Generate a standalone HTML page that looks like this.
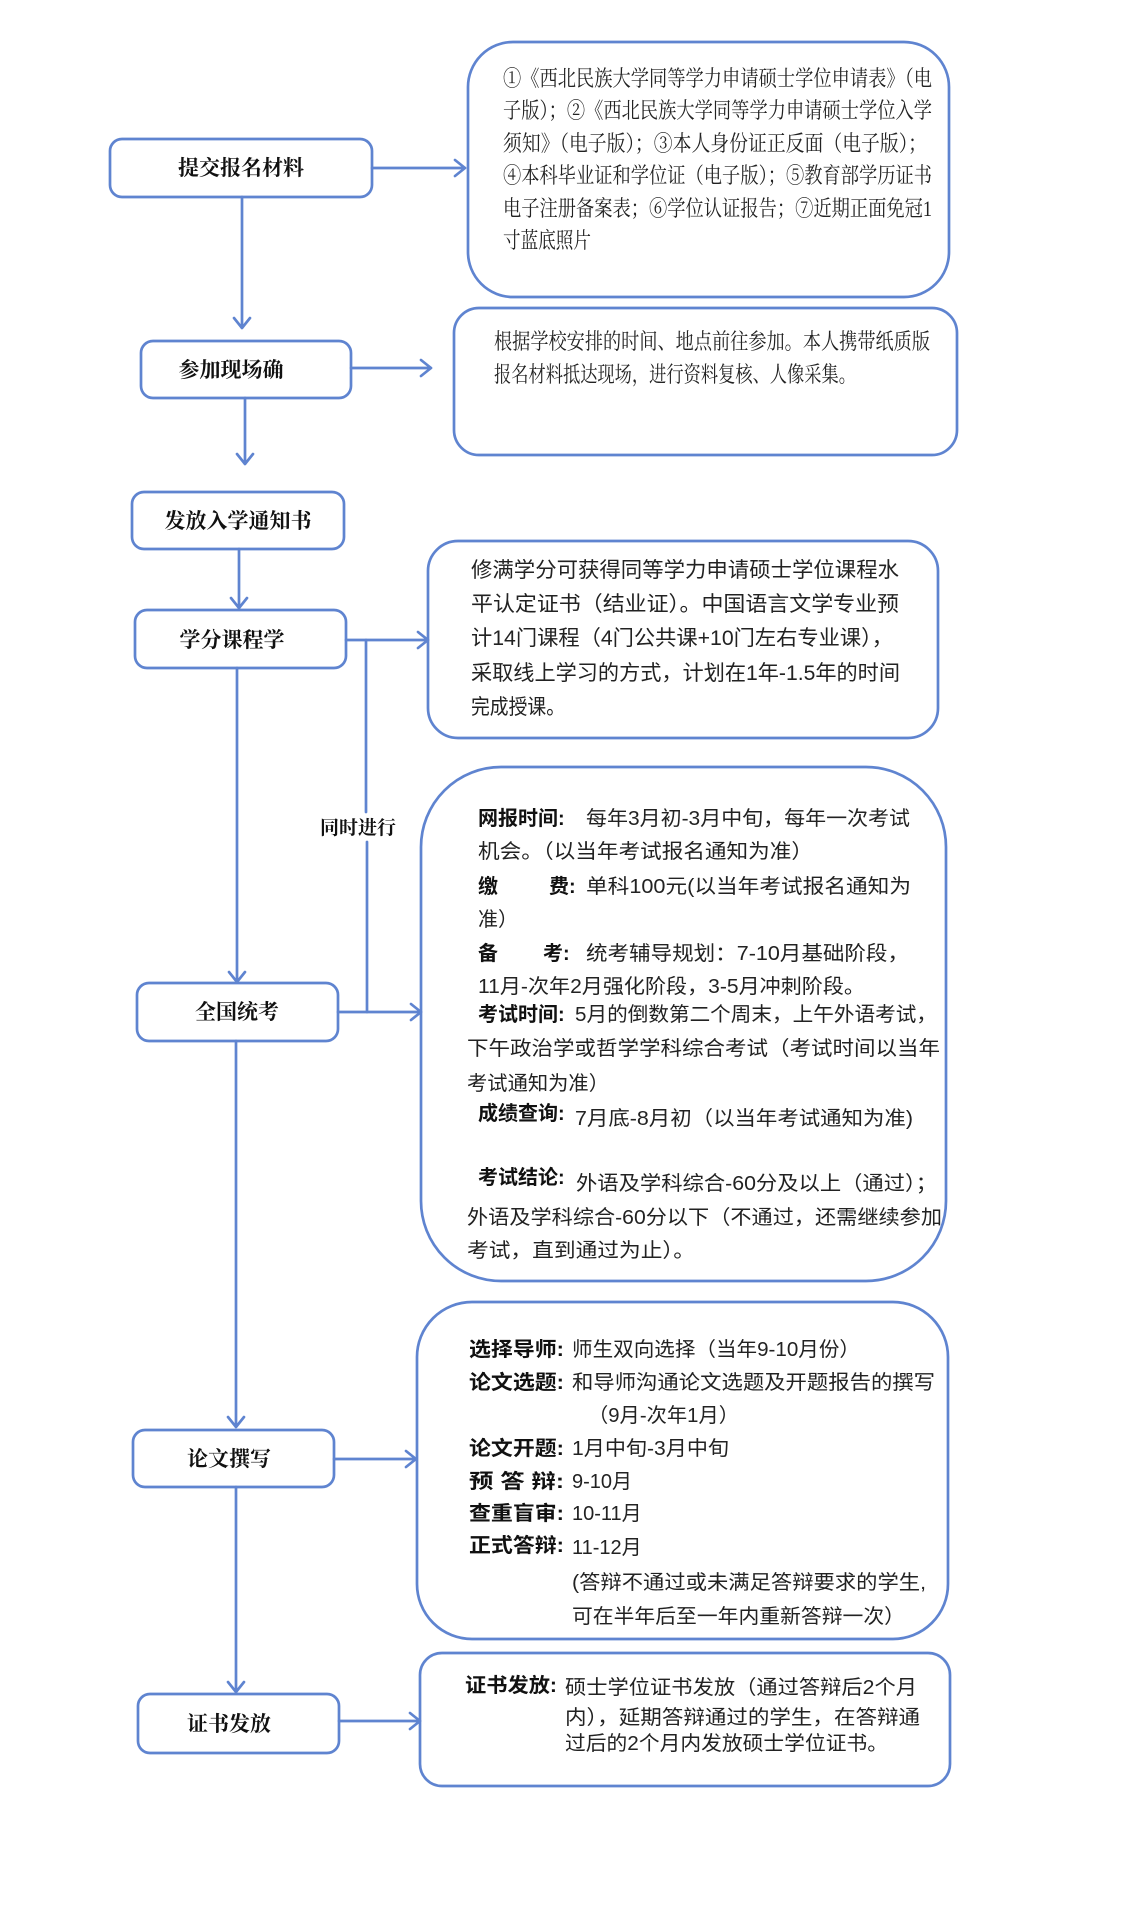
<!DOCTYPE html>
<html><head><meta charset="utf-8"><style>
html,body{margin:0;padding:0;background:#fff;}
svg{display:block;}
.l{font-family:"Liberation Serif","Noto Serif CJK SC",serif;font-size:21px;font-weight:bold;fill:#111;}
.t{font-family:"Liberation Sans","Noto Sans CJK SC",sans-serif;font-size:20px;fill:#222;}
.s{font-family:"Liberation Serif","Noto Serif CJK SC",serif;font-size:22px;fill:#222;}
.b{font-family:"Liberation Sans","Noto Sans CJK SC",sans-serif;font-size:20px;font-weight:bold;fill:#111;}
</style></head><body>
<svg width="1134" height="1919" viewBox="0 0 1134 1919" xmlns="http://www.w3.org/2000/svg">
<g fill="none" stroke="#5f84d0" stroke-width="2.7" stroke-linecap="round" stroke-linejoin="round">
<rect x="110" y="139" width="262" height="58" rx="12"/>
<rect x="141" y="341" width="210" height="57" rx="12"/>
<rect x="132" y="492" width="212" height="57" rx="12"/>
<rect x="135" y="610" width="211" height="58" rx="12"/>
<rect x="137" y="983" width="201" height="58" rx="12"/>
<rect x="133" y="1430" width="201" height="57" rx="12"/>
<rect x="138" y="1694" width="201" height="59" rx="12"/>
<rect x="468" y="42" width="481" height="255" rx="45"/>
<rect x="454" y="308" width="503" height="147" rx="25"/>
<rect x="428" y="541" width="510" height="197" rx="30"/>
<rect x="421" y="767" width="525" height="514" rx="80"/>
<rect x="417" y="1302" width="531" height="337" rx="55"/>
<rect x="420" y="1653" width="530" height="133" rx="22"/>
<path d="M242 197V328M234 318l8 10 8-10"/>
<path d="M245 398V464M237 454l8 10 8-10"/>
<path d="M239 549V608M231 598l8 10 8-10"/>
<path d="M237 668V982M229 972l8 10 8-10"/>
<path d="M236 1041V1427M228 1417l8 10 8-10"/>
<path d="M236 1487V1692M228 1682l8 10 8-10"/>
<path d="M372 168H465M455 160l10 8-10 8"/>
<path d="M351 368H431M421 360l10 8-10 8"/>
<path d="M346 640H428M418 632l10 8-10 8"/>
<path d="M338 1012H421M411 1004l10 8-10 8"/>
<path d="M334 1459H416M406 1451l10 8-10 8"/>
<path d="M339 1721H420M410 1713l10 8-10 8"/>
<path d="M366 640V812M367 842V1012"/>
</g>
<text class="l" x="241" y="175" text-anchor="middle">提交报名材料</text>
<text class="l" x="231" y="377" text-anchor="middle">参加现场确</text>
<text class="l" x="238" y="528" text-anchor="middle">发放入学通知书</text>
<text class="l" x="232" y="647" text-anchor="middle">学分课程学</text>
<text class="l" x="237" y="1019" text-anchor="middle">全国统考</text>
<text class="l" x="229" y="1466" text-anchor="middle">论文撰写</text>
<text class="l" x="229" y="1731" text-anchor="middle">证书发放</text>
<text class="l" x="358" y="834" text-anchor="middle" style="font-size:19px">同时进行</text>
<g class="s">
<text x="503" y="86" textLength="429" lengthAdjust="spacingAndGlyphs">①《西北民族大学同等学力申请硕士学位申请表》（电</text>
<text x="503" y="118" textLength="429" lengthAdjust="spacingAndGlyphs">子版）；②《西北民族大学同等学力申请硕士学位入学</text>
<text x="503" y="151" textLength="424" lengthAdjust="spacingAndGlyphs">须知》（电子版）；③本人身份证正反面（电子版）；</text>
<text x="503" y="183" textLength="429" lengthAdjust="spacingAndGlyphs">④本科毕业证和学位证（电子版）；⑤教育部学历证书</text>
<text x="503" y="216" textLength="429" lengthAdjust="spacingAndGlyphs">电子注册备案表；⑥学位认证报告；⑦近期正面免冠1</text>
<text x="503" y="248" textLength="88" lengthAdjust="spacingAndGlyphs">寸蓝底照片</text>
</g>
<g class="s">
<text x="494" y="349" textLength="436" lengthAdjust="spacingAndGlyphs">根据学校安排的时间、地点前往参加。本人携带纸质版</text>
<text x="494" y="382" textLength="362" lengthAdjust="spacingAndGlyphs">报名材料抵达现场，进行资料复核、人像采集。</text>
</g>
<g class="t" style="font-size:21px">
<text x="471" y="577" textLength="428" lengthAdjust="spacingAndGlyphs">修满学分可获得同等学力申请硕士学位课程水</text>
<text x="471" y="611" textLength="428" lengthAdjust="spacingAndGlyphs">平认定证书（结业证）。中国语言文学专业预</text>
<text x="471" y="645" textLength="422" lengthAdjust="spacingAndGlyphs">计14门课程（4门公共课+10门左右专业课），</text>
<text x="471" y="680" textLength="429" lengthAdjust="spacingAndGlyphs">采取线上学习的方式，计划在1年-1.5年的时间</text>
<text x="471" y="714" textLength="94" lengthAdjust="spacingAndGlyphs">完成授课。</text>
</g>
<g class="b">
<text x="478" y="825">网报时间:</text>
<text x="478" y="893">缴</text><text x="549" y="893">费:</text>
<text x="478" y="960">备</text><text x="543" y="960">考:</text>
<text x="478" y="1021">考试时间:</text>
<text x="478" y="1120">成绩查询:</text>
<text x="478" y="1184">考试结论:</text>
</g>
<g class="t">
<text x="586" y="825" textLength="324" lengthAdjust="spacingAndGlyphs">每年3月初-3月中旬，每年一次考试</text>
<text x="478" y="858" textLength="335" lengthAdjust="spacingAndGlyphs">机会。（以当年考试报名通知为准）</text>
<text x="586" y="893" textLength="325" lengthAdjust="spacingAndGlyphs">单科100元(以当年考试报名通知为</text>
<text x="478" y="926">准）</text>
<text x="586" y="960" textLength="323" lengthAdjust="spacingAndGlyphs">统考辅导规划：7-10月基础阶段，</text>
<text x="478" y="993" textLength="387" lengthAdjust="spacingAndGlyphs">11月-次年2月强化阶段，3-5月冲刺阶段。</text>
<text x="575" y="1021" textLength="362" lengthAdjust="spacingAndGlyphs">5月的倒数第二个周末，上午外语考试，</text>
<text x="467" y="1055" textLength="473" lengthAdjust="spacingAndGlyphs">下午政治学或哲学学科综合考试（考试时间以当年</text>
<text x="467" y="1090" textLength="142" lengthAdjust="spacingAndGlyphs">考试通知为准）</text>
<text x="575" y="1125" textLength="338" lengthAdjust="spacingAndGlyphs">7月底-8月初（以当年考试通知为准)</text>
<text x="576" y="1190" textLength="361" lengthAdjust="spacingAndGlyphs">外语及学科综合-60分及以上（通过）；</text>
<text x="467" y="1224" textLength="475" lengthAdjust="spacingAndGlyphs">外语及学科综合-60分以下（不通过，还需继续参加</text>
<text x="467" y="1257" textLength="228" lengthAdjust="spacingAndGlyphs">考试，直到通过为止）。</text>
</g>
<g class="b">
<text x="469" y="1356" textLength="95" lengthAdjust="spacingAndGlyphs">选择导师:</text>
<text x="469" y="1389" textLength="95" lengthAdjust="spacingAndGlyphs">论文选题:</text>
<text x="469" y="1455" textLength="95" lengthAdjust="spacingAndGlyphs">论文开题:</text>
<text x="469" y="1488" textLength="95" lengthAdjust="spacingAndGlyphs">预 答 辩:</text>
<text x="469" y="1520" textLength="95" lengthAdjust="spacingAndGlyphs">查重盲审:</text>
<text x="469" y="1552" textLength="95" lengthAdjust="spacingAndGlyphs">正式答辩:</text>
</g>
<g class="t">
<text x="572" y="1356" textLength="288" lengthAdjust="spacingAndGlyphs">师生双向选择（当年9-10月份）</text>
<text x="572" y="1389" textLength="363" lengthAdjust="spacingAndGlyphs">和导师沟通论文选题及开题报告的撰写</text>
<text x="588" y="1422" textLength="151" lengthAdjust="spacingAndGlyphs">（9月-次年1月）</text>
<text x="572" y="1455" textLength="157" lengthAdjust="spacingAndGlyphs">1月中旬-3月中旬</text>
<text x="572" y="1488">9-10月</text>
<text x="572" y="1520">10-11月</text>
<text x="572" y="1554">11-12月</text>
<text x="572" y="1589" textLength="354" lengthAdjust="spacingAndGlyphs">(答辩不通过或未满足答辩要求的学生,</text>
<text x="572" y="1623" textLength="333" lengthAdjust="spacingAndGlyphs">可在半年后至一年内重新答辩一次）</text>
</g>
<text class="b" x="465" y="1692" textLength="92" lengthAdjust="spacingAndGlyphs">证书发放:</text>
<g class="t">
<text x="565" y="1694" textLength="352" lengthAdjust="spacingAndGlyphs">硕士学位证书发放（通过答辩后2个月</text>
<text x="565" y="1724" textLength="355" lengthAdjust="spacingAndGlyphs">内），延期答辩通过的学生，在答辩通</text>
<text x="565" y="1750" textLength="323" lengthAdjust="spacingAndGlyphs">过后的2个月内发放硕士学位证书。</text>
</g>
</svg>
</body></html>
